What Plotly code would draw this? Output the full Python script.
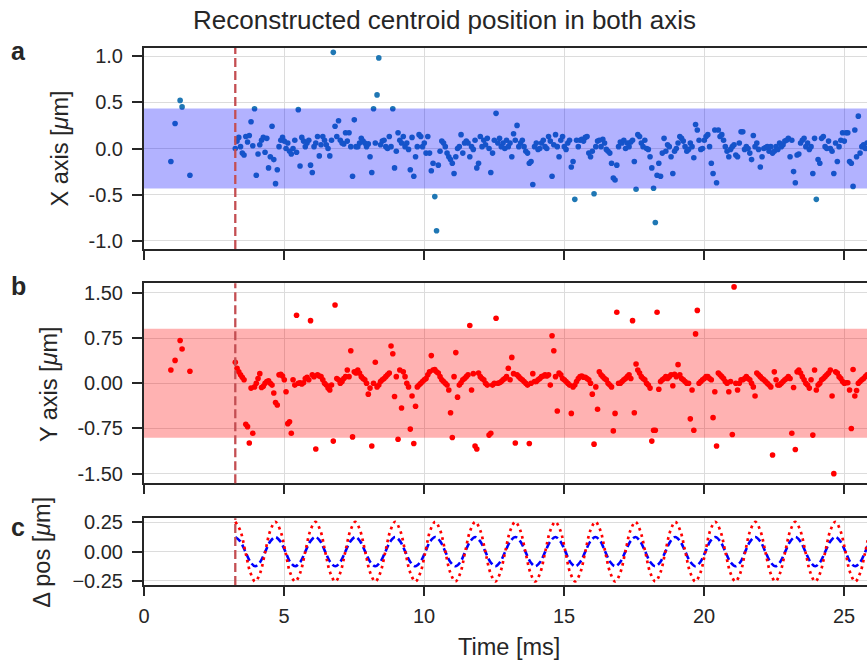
import numpy as np
import plotly.graph_objects as go

# ---------------------------------------------------------------- data
# frames before the trigger (irregular times, ms)
pre_times = [0.96, 1.11, 1.29, 1.36, 1.64]
pre_x = [-0.14, 0.27, 0.52, 0.45, -0.29]
pre_y = [0.22, 0.38, 0.71, 0.57, 0.20]

# camera frames after the trigger
trigger_ms = 3.26
frame_step_ms = 0.0625

x_pos = [
    0.0, 0.08, 0.12, 0.02, -0.05, -0.07, 0.13, 0.07, 0.14, 0.29,
    0.03, 0.43, -0.29, -0.06, 0.04, 0.09, 0.12, -0.04, 0.11, -0.21,
    -0.09, 0.24, -0.12, -0.38, -0.23, 0.02, 0.09, 0.12, 0.08, 0.0,
    0.06, -0.03, -0.06, 0.0, 0.09, -0.04, 0.42, -0.19, 0.12, 0.08,
    0.02, 0.06, 0.09, -0.18, -0.26, 0.02, 0.06, 0.13, -0.08, 0.04,
    0.13, 0.09, 0.04, 0.0, -0.08, 0.09, 1.04, 0.24, 0.13, 0.3,
    0.09, 0.06, 0.05, 0.17, 0.08, 0.17, 0.02, -0.3, 0.31, 0.02,
    0.02, 0.06, 0.11, 0.08, 0.06, 0.02, 0.05, -0.09, -0.26, 0.43,
    0.06, 0.58, 0.98, 0.04, 0.08, 0.09, 0.02, 0.0, 0.13, 0.02,
    0.43, -0.21, -0.03, 0.17, 0.09, 0.06, 0.13, 0.02, 0.06, -0.01,
    -0.23, 0.12, -0.3, -0.09, 0.02, 0.15, 0.13, 0.02, 0.06, -0.05,
    0.13, -0.05, -0.24, -0.16, -0.52, -0.89, -0.18, -0.03, 0.08, 0.06,
    0.02, -0.05, -0.09, -0.12, -0.16, -0.27, -0.09, 0.0, 0.02, 0.15,
    -0.05, 0.06, 0.08, 0.06, -0.09, 0.02, -0.01, 0.09, -0.21, -0.16,
    0.13, 0.02, 0.09, 0.04, 0.11, 0.0, -0.26, -0.05, 0.09, 0.38,
    0.06, 0.11, 0.02, 0.06, 0.0, 0.09, 0.02, 0.06, -0.09, 0.16,
    0.09, 0.25, 0.02, 0.06, 0.09, 0.02, -0.03, -0.05, -0.16, -0.14,
    -0.39, 0.02, 0.06, -0.01, 0.0, 0.06, 0.09, 0.02, 0.0, 0.13,
    0.08, -0.3, 0.04, 0.15, 0.02, -0.09, 0.09, 0.13, 0.02, -0.01,
    0.06, 0.09, -0.2, -0.14, -0.55, 0.09, 0.02, 0.09, 0.1, 0.08,
    0.12, 0.13, -0.05, -0.09, -0.03, -0.49, 0.02, 0.08, 0.09, 0.02,
    0.1, 0.06, -0.01, -0.03, -0.05, -0.16, -0.32, -0.34, -0.18, 0.02,
    0.07, 0.06, 0.09, 0.0, 0.06, 0.02, 0.07, 0.09, -0.14, -0.44,
    0.15, 0.13, 0.06, 0.02, 0.09, 0.0, -0.01, -0.09, -0.21, -0.43,
    -0.8, -0.29, -0.16, -0.3, -0.05, 0.11, -0.03, 0.04, 0.02, -0.09,
    -0.27, -0.03, 0.0, 0.06, 0.13, 0.11, 0.08, 0.02, -0.03, -0.01,
    0.06, 0.02, -0.1, 0.26, 0.2, 0.09, -0.01, 0.0, 0.09, 0.13,
    0.15, 0.02, -0.16, -0.27, 0.2, -0.37, 0.2, 0.13, 0.15, 0.09,
    0.02, -0.03, -0.09, -0.01, 0.02, 0.04, -0.07, -0.09, 0.06, 0.18,
    0.18, -0.01, 0.02, 0.0, -0.05, -0.12, 0.14, 0.02, 0.06, -0.01,
    -0.2, -0.09, 0.0, 0.01, 0.02, -0.03, 0.02, -0.05, -0.03, 0.02,
    -0.01, 0.06, 0.02, 0.04, 0.08, 0.09, 0.11, -0.09, 0.09, -0.25,
    -0.37, -0.07, -0.06, 0.06, 0.09, 0.11, 0.02, 0.06, -0.01, 0.02,
    -0.27, 0.11, -0.55, -0.12, -0.16, 0.11, 0.13, 0.02, 0.0, 0.08,
    0.0, -0.03, -0.27, 0.06, -0.14, 0.02, 0.09, 0.17, 0.08, 0.17,
    0.17, -0.14, -0.16, -0.41, 0.2, -0.09, 0.35, -0.05, 0.02, 0.04,
    0.0, 0.06,
]

y_pos = [
    0.35, 0.25, 0.19, 0.14, 0.1, 0.06, -0.68, -0.72, -0.99, -0.08,
    -0.83, -0.06, 0.0, 0.08, 0.16, -0.07, -0.05, 0.0, 0.03, 0.04,
    0.0, -0.03, -0.16, -0.32, -0.36, 0.14, 0.15, 0.12, 0.06, -0.14,
    -0.67, -0.64, -0.83, 0.06, -0.03, 1.13, 0.0, 0.01, -0.01, 0.01,
    0.08, 0.1, 0.06, 1.04, 0.14, 0.11, -1.09, 0.14, 0.12, 0.11,
    0.06, 0.0, -0.03, -0.08, -0.11, -0.03, -0.96, 1.3, 0.08, 0.06,
    0.0, 0.03, 0.08, 0.11, 0.22, 0.11, 0.54, -0.89, 0.19, 0.17,
    0.22, 0.17, 0.11, 0.08, 0.06, 0.0, -0.18, -0.08, -1.04, 0.0,
    0.35, -0.06, -0.03, 0.03, 0.06, 0.08, 0.11, 0.14, 0.17, 0.62,
    0.49, -0.22, 0.11, -0.93, 0.22, -0.41, 0.19, 0.11, 0.0, -0.06,
    -0.76, -0.21, -1.0, -0.38, -0.06, -0.03, 0.0, 0.03, 0.06, 0.08,
    0.14, 0.19, 0.46, 0.22, 0.23, 0.19, 0.17, 0.11, 0.06, 0.03,
    0.0, -0.03, -0.11, -0.49, -0.9, 0.11, 0.51, -0.23, -0.03, 0.01,
    0.06, 0.08, 0.11, 0.14, 0.96, -0.11, 0.16, -1.04, -1.09, 0.17,
    0.11, 0.08, 0.06, 0.0, -0.03, -0.86, -0.83, -0.03, 0.0, 1.08,
    0.0, 0.01, 0.03, 0.06, 0.08, 0.11, 0.25, 0.06, 0.43, 0.16,
    -0.99, 0.14, 0.11, 0.08, 0.06, 0.03, 0.0, -0.03, -1.0, 0.0,
    0.16, 0.03, 0.03, 0.06, 0.08, 0.11, 0.12, 0.14, 0.12, 0.14,
    -0.03, 0.79, 0.54, 0.11, -0.46, 0.17, 0.14, 0.08, 0.06, 0.03,
    0.0, -0.03, -0.5, -0.06, -0.03, 0.03, 0.08, 0.11, 0.12, 0.1,
    0.1, 0.08, 0.06, 0.0, -0.18, -1.01, -0.06, -0.43, 0.19, 0.14,
    0.11, 0.08, 0.06, 0.0, -0.03, -0.06, -0.79, -0.5, 1.18, 0.0,
    0.0, 0.03, 0.06, 0.08, 0.11, 0.14, 0.08, 1.04, -0.49, 0.32,
    0.22, 0.17, 0.11, 0.08, 0.06, 0.0, -0.03, -0.08, -0.96, -0.78,
    -0.78, 1.18, -0.1, 0.03, 0.06, 0.08, 0.11, 0.08, 0.11, 0.14,
    -0.04, 0.15, 0.11, 0.31, 0.14, 0.08, 0.06, 0.03, 0.0, 0.0,
    -0.59, -0.11, -0.78, 0.82, 1.21, 0.0, 0.03, 0.06, 0.08, 0.11,
    0.11, 0.08, 0.06, -0.57, -0.14, -1.04, 0.17, 0.14, 0.11, 0.08,
    0.03, 0.0, -0.14, 0.03, -0.85, 1.6, 0.0, -0.11, 0.0, 0.06,
    0.06, 0.08, 0.11, 0.08, 0.06, 0.0, -0.06, -0.21, 0.17, 0.14,
    0.11, 0.08, 0.06, 0.03, 0.0, -0.03, -0.06, -1.19, 0.19, 0.06,
    -0.03, -0.03, 0.0, 0.03, 0.06, 0.08, 0.11, 0.08, -0.83, -0.07,
    -1.1, 0.19, 0.22, 0.17, 0.11, 0.06, 0.0, -0.03, -0.08, 0.06,
    -0.86, 0.22, -0.11, -0.03, 0.0, 0.06, 0.08, 0.11, 0.14, 0.17,
    0.22, -0.21, -1.5, 0.19, 0.17, 0.11, 0.08, 0.03, 0.0, 0.01,
    0.01, -0.11, -0.75, 0.23, -0.21, -0.12, 0.0, 0.03, 0.06, 0.08,
    0.11, 0.14,
]

# tolerance bands (+/-) for each axis
x_band = 0.433
y_band = 0.905

# model displacement sampled every eighth of an oscillation period (ms)
model_t = [
    3.26, 3.44, 3.62, 3.80, 3.97, 4.15, 4.33, 4.51, 4.69, 4.87,
    5.05, 5.22, 5.40, 5.58, 5.76, 5.94, 6.12, 6.30, 6.47, 6.65,
    6.83, 7.01, 7.19, 7.37, 7.55, 7.72, 7.90, 8.08,
    8.26, 8.44, 8.62, 8.80, 8.97, 9.15, 9.33, 9.51, 9.69, 9.87,
    10.05, 10.22, 10.40, 10.58, 10.76, 10.94, 11.12, 11.30, 11.47, 11.65,
    11.83, 12.01, 12.19, 12.37, 12.55, 12.72, 12.90, 13.08,
    13.26, 13.44, 13.62, 13.80, 13.97, 14.15, 14.33, 14.51, 14.69, 14.87,
    15.05, 15.22, 15.40, 15.58, 15.76, 15.94, 16.12, 16.30, 16.47, 16.65,
    16.83, 17.01, 17.19, 17.37, 17.55, 17.72, 17.90, 18.08,
    18.26, 18.44, 18.62, 18.80, 18.97, 19.15, 19.33, 19.51, 19.69, 19.87,
    20.05, 20.22, 20.40, 20.58, 20.76, 20.94, 21.12, 21.30, 21.47, 21.65,
    21.83, 22.01, 22.19, 22.37, 22.55, 22.72, 22.90, 23.08,
    23.26, 23.44, 23.62, 23.80, 23.97, 24.15, 24.33, 24.51, 24.69, 24.87,
    25.05, 25.22, 25.40, 25.58, 25.76, 25.94, 26.12,
]
model_dx = [
    0.125, 0.088, 0, -0.088, -0.125, -0.088, 0, 0.088,
    0.125, 0.088, 0, -0.088, -0.125, -0.088, 0, 0.088,
    0.125, 0.088, 0, -0.088, -0.125, -0.088, 0, 0.088,
    0.125, 0.088, 0, -0.088, -0.125, -0.088, 0, 0.088,
    0.125, 0.088, 0, -0.088, -0.125, -0.088, 0, 0.088,
    0.125, 0.088, 0, -0.088, -0.125, -0.088, 0, 0.088,
    0.125, 0.088, 0, -0.088, -0.125, -0.088, 0, 0.088,
    0.125, 0.088, 0, -0.088, -0.125, -0.088, 0, 0.088,
    0.125, 0.088, 0, -0.088, -0.125, -0.088, 0, 0.088,
    0.125, 0.088, 0, -0.088, -0.125, -0.088, 0, 0.088,
    0.125, 0.088, 0, -0.088, -0.125, -0.088, 0, 0.088,
    0.125, 0.088, 0, -0.088, -0.125, -0.088, 0, 0.088,
    0.125, 0.088, 0, -0.088, -0.125, -0.088, 0, 0.088,
    0.125, 0.088, 0, -0.088, -0.125, -0.088, 0, 0.088,
    0.125, 0.088, 0, -0.088, -0.125, -0.088, 0, 0.088,
    0.125, 0.088, 0, -0.088, -0.125, -0.088, 0, 0.088,
    0.125,
]
model_dy = [
    0.255, 0.18, 0, -0.18, -0.255, -0.18, 0, 0.18,
    0.255, 0.18, 0, -0.18, -0.255, -0.18, 0, 0.18,
    0.255, 0.18, 0, -0.18, -0.255, -0.18, 0, 0.18,
    0.255, 0.18, 0, -0.18, -0.255, -0.18, 0, 0.18,
    0.255, 0.18, 0, -0.18, -0.255, -0.18, 0, 0.18,
    0.255, 0.18, 0, -0.18, -0.255, -0.18, 0, 0.18,
    0.255, 0.18, 0, -0.18, -0.255, -0.18, 0, 0.18,
    0.255, 0.18, 0, -0.18, -0.255, -0.18, 0, 0.18,
    0.255, 0.18, 0, -0.18, -0.255, -0.18, 0, 0.18,
    0.255, 0.18, 0, -0.18, -0.255, -0.18, 0, 0.18,
    0.255, 0.18, 0, -0.18, -0.255, -0.18, 0, 0.18,
    0.255, 0.18, 0, -0.18, -0.255, -0.18, 0, 0.18,
    0.255, 0.18, 0, -0.18, -0.255, -0.18, 0, 0.18,
    0.255, 0.18, 0, -0.18, -0.255, -0.18, 0, 0.18,
    0.255, 0.18, 0, -0.18, -0.255, -0.18, 0, 0.18,
    0.255, 0.18, 0, -0.18, -0.255, -0.18, 0, 0.18,
    0.255,
]

x_ticks = [0, 5, 10, 15, 20, 25]
a_ticks = [1.0, 0.5, 0.0, -0.5, -1.0]
a_labels = ["1.0", "0.5", "0.0", "-0.5", "-1.0"]
b_ticks = [1.5, 0.75, 0.0, -0.75, -1.5]
b_labels = ["1.50", "0.75", "0.00", "-0.75", "-1.50"]
c_ticks = [0.25, 0.0, -0.25]
c_labels = ["0.25", "0.00", "\u22120.25"]

# ---------------------------------------------------------------- figure
frame_times = trigger_ms + frame_step_ms * np.arange(len(x_pos))
t_all = list(pre_times) + list(frame_times)

INK = "#262626"
GRID = "#dcdcdc"
FONT = "Liberation Sans, Arial, sans-serif"

fig = go.Figure()
fig.add_trace(go.Scatter(x=t_all, y=pre_x + x_pos, mode="markers",
                         marker=dict(color="#1f77b4", size=5.6, line_width=0),
                         xaxis="x", yaxis="y", showlegend=False))
fig.add_trace(go.Scatter(x=t_all, y=pre_y + y_pos, mode="markers",
                         marker=dict(color="#ff0000", size=5.6, line_width=0),
                         xaxis="x2", yaxis="y2", showlegend=False))
fig.add_trace(go.Scatter(x=model_t, y=model_dx, mode="lines",
                         line=dict(color="#0000ff", width=2.6, dash="7px,3.5px",
                                   shape="spline", smoothing=1.0),
                         xaxis="x3", yaxis="y3", showlegend=False))
fig.add_trace(go.Scatter(x=model_t, y=model_dy, mode="lines",
                         line=dict(color="#ff0000", width=2.7, dash="2.7px,4px",
                                   shape="spline", smoothing=1.0),
                         xaxis="x3", yaxis="y3", showlegend=False))

x_common = dict(range=[0, 25.82], tickvals=x_ticks, showgrid=True,
                gridcolor=GRID, gridwidth=1.2, zeroline=False,
                showline=True, linecolor=INK, linewidth=2, mirror=True,
                ticks="outside", ticklen=9, tickwidth=1.5, tickcolor=INK,
                ticklabelstandoff=3,
                tickfont=dict(size=20, color=INK, family=FONT))
y_common = dict(showgrid=True, gridcolor=GRID, gridwidth=1.2, zeroline=False,
                showline=True, linecolor=INK, linewidth=2, mirror=False,
                ticks="outside", ticklen=10, tickwidth=1.5, tickcolor=INK,
                ticklabelstandoff=5,
                tickfont=dict(size=20, color=INK, family=FONT))

fig.update_layout(
    width=867, height=664,
    margin=dict(l=144, r=0, t=48, b=79),
    paper_bgcolor="white", plot_bgcolor="white",
    font=dict(family=FONT, color=INK),
    xaxis=dict(**x_common, anchor="y", showticklabels=False),
    xaxis2=dict(**x_common, anchor="y2", matches="x", showticklabels=False),
    xaxis3=dict(**x_common, anchor="y3", matches="x"),
    yaxis=dict(**y_common, domain=[0.6257, 1.0], range=[-1.087, 1.087],
               tickvals=a_ticks, ticktext=a_labels, anchor="x"),
    yaxis2=dict(**y_common, domain=[0.1894, 0.5618], range=[-1.66, 1.66],
                tickvals=b_ticks, ticktext=b_labels, anchor="x2"),
    yaxis3=dict(**y_common, domain=[0.0, 0.1242], range=[-0.285, 0.285],
                tickvals=c_ticks, ticktext=c_labels, anchor="x3"),
)

# shaded tolerance bands drawn over the points, then the trigger marker
fig.add_shape(type="rect", xref="paper", x0=0, x1=1, yref="y",
              y0=-x_band, y1=x_band, fillcolor="rgba(0,0,255,0.3)",
              line_width=0, layer="above")
fig.add_shape(type="rect", xref="paper", x0=0, x1=1, yref="y2",
              y0=-y_band, y1=y_band, fillcolor="rgba(255,0,0,0.3)",
              line_width=0, layer="above")
for xr, yr in (("x", "y"), ("x2", "y2"), ("x3", "y3")):
    fig.add_shape(type="line", xref=xr, x0=trigger_ms, x1=trigger_ms,
                  yref=f"{yr} domain", y0=0, y1=1,
                  line=dict(color="#c44e52", width=2.3, dash="9px,4px"),
                  layer="above")

ann = []
ann.append(dict(text="Reconstructed centroid position in both axis",
                x=0.4163, y=1.0521, font=dict(size=26)))
ann.append(dict(text="X axis [<i>\u03bc</i>m]", x=-0.1162, y=0.8128,
                textangle=-90, font=dict(size=23.5)))
ann.append(dict(text="Y axis [<i>\u03bc</i>m]", x=-0.1321, y=0.3752,
                textangle=-90, font=dict(size=23.5)))
ann.append(dict(text="\u0394 pos [<i>\u03bc</i>m]", x=-0.1411, y=0.0620,
                textangle=-90, font=dict(size=23.5)))
ann.append(dict(text="Time [ms]", x=0.5048, y=-0.1155, font=dict(size=23.5)))
for letter, yy in (("a", 0.9935), ("b", 0.5559), ("c", 0.1071)):
    ann.append(dict(text=f"<b>{letter}</b>", x=-0.1736, y=yy,
                    font=dict(size=25)))
for a in ann:
    fig.add_annotation(xref="paper", yref="paper", showarrow=False,
                       xanchor="center", yanchor="middle", **a)

fig.write_html("out.html")
